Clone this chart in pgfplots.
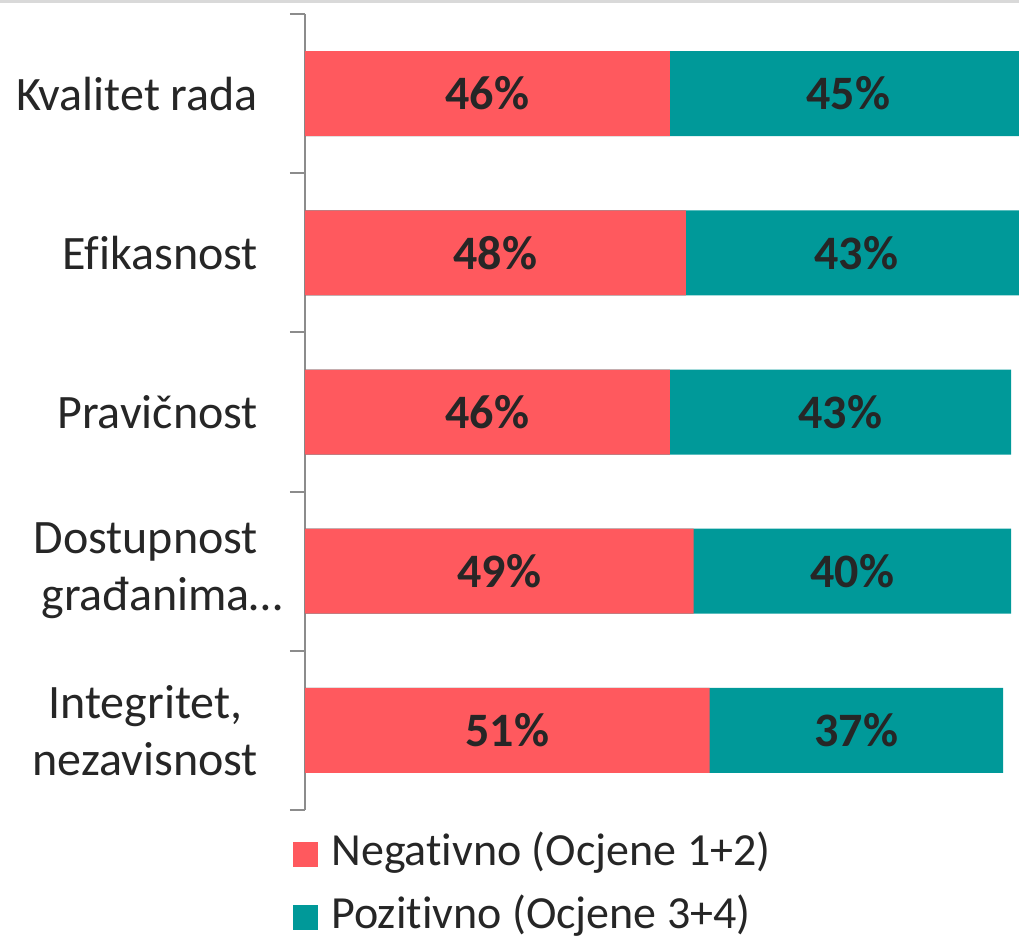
\documentclass[border=0pt]{standalone}
\usepackage{pgfplots}
\usepackage{pgfplotstable}
\pgfplotsset{compat=1.18}
\usepackage{fontspec}
\setmainfont{Carlito}[Ligatures=NoCommon]
\definecolor{neg}{HTML}{FF595E}
\definecolor{poz}{HTML}{009999}
\definecolor{txt}{HTML}{262626}
\definecolor{axgray}{HTML}{8C8C8C}

\pgfplotstableread{
cat neg poz
0 46 45
1 48 43
2 46 43
3 49 40
4 51 37
}\data

\begin{document}
\begin{tikzpicture}
\useasboundingbox (0,0) rectangle (509.5pt,469pt);
\fill[black!15] (0,467.5pt) rectangle (509.5pt,469pt);
\begin{axis}[
  at={(152.5pt,64pt)}, anchor=south west,
  scale only axis, width=357pt, height=398pt,
  xmin=0, xmax=90, ymin=-0.5, ymax=4.5, y dir=reverse,
  axis x line=none, axis y line*=left,
  y axis line style={axgray, line width=1pt},
  ytick={0,...,4}, major tick length=0pt,
  yticklabels={Kvalitet rada, Efikasnost, Pravičnost, {Dostupnost\\građanima\rlap{…}}, {Integritet,\\nezavisnost}},
  yticklabel style={align=center, xshift=-20pt, text=txt, font=\fontsize{24}{28.5}\selectfont},
  extra y ticks={-0.5,0.5,1.5,2.5,3.5,4.5}, extra y tick labels={},
  extra y tick style={major tick length=7.5pt, tick align=outside, tick style={axgray, line width=1pt}},
  every node near coord/.append style={anchor=center, text=txt, font=\bfseries\fontsize{24}{28}\selectfont},
  legend style={draw=none, fill=none, at={(0,0)}, anchor=north west, xshift=-6pt, yshift=-11.5pt,
    inner sep=0pt, row sep=10.5pt, column sep=6.5pt, font=\fontsize{23}{27}\selectfont, text=txt,
    nodes={inner sep=0pt, text height=16pt, text depth=5pt}},
  legend cell align=left, reverse legend,
  legend image code/.code={\fill[#1] (0pt,-6.5pt) rectangle (12.5pt,6pt);},
]
\addplot[xbar, bar width=42.5pt, fill=poz, draw=none] table[x expr=\thisrow{neg}+\thisrow{poz}, y=cat] {\data};
\addlegendentry{Pozitivno (Ocjene 3+4)}
\addplot[xbar, bar width=42.5pt, fill=neg, draw=none] table[x=neg, y=cat] {\data};
\addlegendentry{Negativno (Ocjene 1+2)}
\addplot[forget plot, only marks, mark=none, point meta=explicit symbolic,
  nodes near coords={\pgfplotspointmeta\%}] table[x expr=\thisrow{neg}/2, y=cat, meta=neg] {\data};
\addplot[forget plot, only marks, mark=none, point meta=explicit symbolic,
  nodes near coords={\pgfplotspointmeta\%}] table[x expr=\thisrow{neg}+\thisrow{poz}/2, y=cat, meta=poz] {\data};
\end{axis}
\end{tikzpicture}
\end{document}
